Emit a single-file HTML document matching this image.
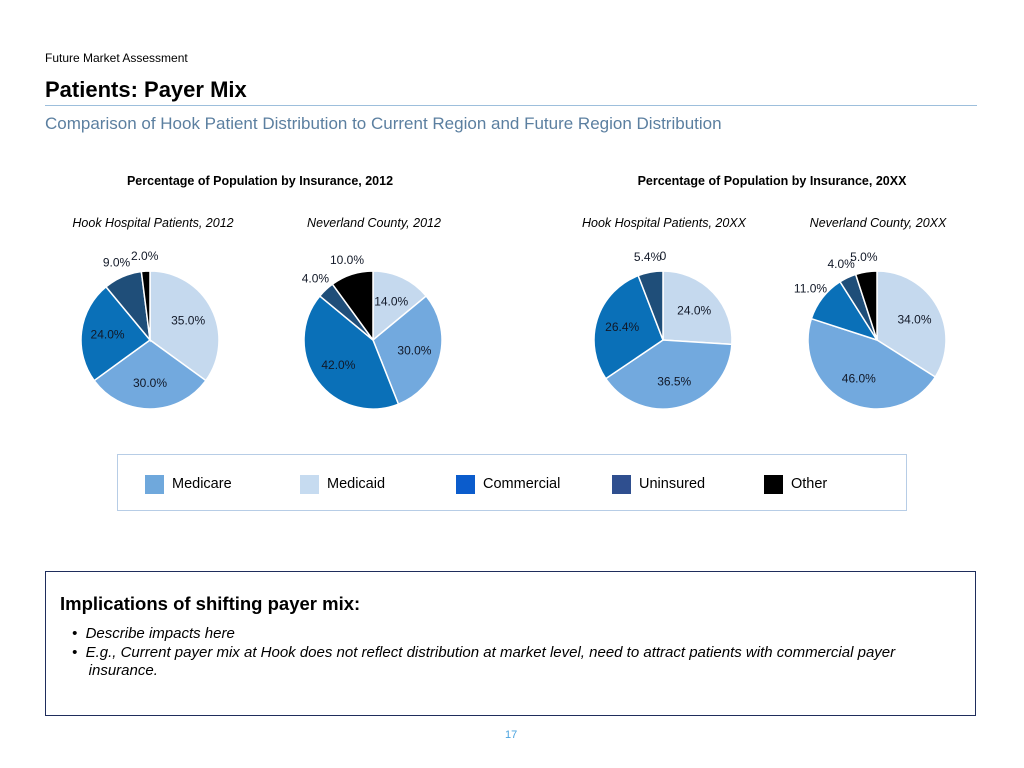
<!DOCTYPE html>
<html><head><meta charset="utf-8"><style>
body{margin:0;width:1024px;height:768px;background:#fff;font-family:"Liberation Sans",sans-serif;position:relative;overflow:hidden}
.a{position:absolute;white-space:nowrap}
</style></head><body>
<div class="a" style="left:45px;top:51px;font-size:12px;color:#000">Future Market Assessment</div>
<div class="a" style="left:45px;top:77px;font-size:22px;font-weight:bold;color:#000">Patients: Payer Mix</div>
<div class="a" style="left:45px;top:105px;width:932px;height:1px;background:#9dbfdc"></div>
<div class="a" style="left:45px;top:114px;font-size:17px;color:#5b7fa0">Comparison of Hook Patient Distribution to Current Region and Future Region Distribution</div>
<svg class="a" style="left:0;top:0" width="1024" height="450" id="svg"></svg>
<div class="a" style="left:117px;top:454px;width:788px;height:55px;border:1px solid #b7cde6"></div>
<div class="a" style="left:45px;top:571px;width:929px;height:143px;border:1px solid #1f2d5c"></div>
<div class="a" style="left:60px;top:593px;font-size:18.5px;font-weight:bold">Implications of shifting payer mix:</div>
<div class="a" style="left:72px;top:625px;font-size:15px;font-style:italic">•&nbsp;&nbsp;Describe impacts here</div>
<div class="a" style="left:72px;top:644px;font-size:15px;font-style:italic;line-height:18px;white-space:normal;width:900px">•&nbsp;&nbsp;E.g., Current payer mix at Hook does not reflect distribution at market level, need to attract patients with commercial payer<br>&nbsp;&nbsp;&nbsp;&nbsp;insurance.</div>
<div class="a" style="left:505px;top:729px;font-size:11px;color:#4aa3df">17</div>
<script>
const categories=["Medicaid","Medicare","Commercial","Uninsured","Other"];
const sliceColors=["#c5d9ee","#72a9de","#0a70b8","#1f4e79","#000000"];
const legendOrder=["Medicare","Medicaid","Commercial","Uninsured","Other"];
const legendColors=["#6fa8dc","#c6dbf0","#0b5ccc","#2f4f8f","#000000"];
const pieTitles=["Hook Hospital Patients, 2012","Neverland County, 2012","Hook Hospital Patients, 20XX","Neverland County, 20XX"];
const hook2012=[35.0,30.0,24.0,9.0,2.0];
const county2012=[14.0,30.0,42.0,4.0,10.0];
const hookXX=[24.0,36.5,26.4,5.4,0];
const countyXX=[34.0,46.0,11.0,4.0,5.0];
const series=[hook2012,county2012,hookXX,countyXX];
const centers=[[150,340],[373,340],[663,340],[877,340]];
const R=69,NS="http://www.w3.org/2000/svg";
const svg=document.getElementById('svg');
function mk(t,a){const e=document.createElementNS(NS,t);for(const k in a)e.setAttribute(k,a[k]);svg.appendChild(e);return e;}
function txt(x,y,s,st,name){const e=mk('text',{x:x,y:y,style:st});e.textContent=s;return e;}
txt(260,185,"Percentage of Population by Insurance, 2012","font-size:12.5px;font-weight:bold;text-anchor:middle","chart-title-2012");
txt(772,185,"Percentage of Population by Insurance, 20XX","font-size:12.5px;font-weight:bold;text-anchor:middle","chart-title-20xx");
const tx=[153,374,664,878];
series.forEach((vals,pi)=>{
  const [cx,cy]=centers[pi];
  txt(tx[pi],227,pieTitles[pi],"font-size:12.5px;font-style:italic;text-anchor:middle","pie-subtitle");
  const tot=vals.reduce((a,b)=>a+b,0);let cum=0;
  vals.forEach((v,i)=>{
    const a0=cum/tot*2*Math.PI;cum+=v;const a1=cum/tot*2*Math.PI;
    const p=(a)=>[cx+R*Math.sin(a),cy-R*Math.cos(a)];
    if(v>0){const [x0,y0]=p(a0),[x1,y1]=p(a1);
      const path=mk('path',{d:`M${cx},${cy}L${x0},${y0}A${R},${R} 0 ${a1-a0>Math.PI?1:0} 1 ${x1},${y1}Z`,fill:sliceColors[i],stroke:"#fff","stroke-width":1.5});
      
      }
    const am=(a0+a1)/2,pct=v/tot;const rr=pct<0.12?R*1.22:R*0.62;
    const lx=cx+rr*Math.sin(am),ly=cy-rr*Math.cos(am)+4;
    txt(lx,ly,v===0?"0":v.toFixed(1)+"%","font-size:12px;fill:#111827;text-anchor:middle","slice-label");
  });
});
const lx=[145,300,456,612,764];
legendOrder.forEach((n,i)=>{
  const d=document.createElement('div');d.className='a';
  d.style.cssText=`left:${lx[i]}px;top:475px;width:19px;height:19px;background:${legendColors[i]}`;
  
  
  document.body.appendChild(d);
  const t=document.createElement('div');t.className='a';
  t.style.cssText=`left:${lx[i]+27}px;top:476px;font-size:14.5px`;t.textContent=n;
  
  
  document.body.appendChild(t);
});
</script>
</body></html>
